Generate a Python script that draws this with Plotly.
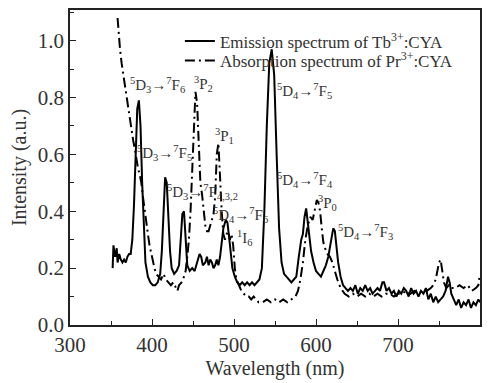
import plotly.graph_objects as go

# Emission spectrum of Tb3+:CYA (solid)
em_wl = [352, 353, 355, 357, 358, 360, 362, 364, 366, 368, 370, 372, 374, 376, 378, 380, 382, 384, 386, 388,
         390, 392, 395, 398, 401, 404, 407, 410, 412, 414, 416, 418, 420, 422, 424, 427, 430, 433, 435, 437,
         439, 441, 443, 446, 449, 452, 455, 458, 460, 462, 465, 467, 469, 471, 473, 475, 477, 479, 481, 483,
         485, 487, 490, 492, 494, 496, 498, 501, 504, 507, 510, 513, 516, 519, 522, 525, 528, 531, 534, 537,
         540, 543, 546, 549, 552, 555, 558, 561, 564, 567, 570, 573, 576, 579, 582, 584, 586, 588, 590, 592,
         594, 597, 600, 603, 606, 609, 612, 615, 618, 621, 623, 625, 627, 630, 633, 636, 639, 642, 645, 648,
         651, 654, 657, 660, 663, 666, 669, 672, 675, 678, 681, 683, 686, 689, 692, 695, 698, 701, 704, 707,
         710, 713, 716, 719, 722, 725, 728, 731, 734, 737, 740, 743, 746, 749, 752, 755, 758, 761, 763, 765,
         768, 771, 774, 777, 780, 783, 786, 789, 792, 795, 798, 800]
em_val = [0.20, 0.28, 0.24, 0.27, 0.22, 0.25, 0.23, 0.22, 0.23, 0.22, 0.24, 0.25, 0.25, 0.30, 0.42, 0.60, 0.76, 0.79, 0.70, 0.50,
          0.32, 0.22, 0.17, 0.15, 0.14, 0.14, 0.15, 0.18, 0.26, 0.42, 0.52, 0.50, 0.38, 0.26, 0.20, 0.18, 0.19, 0.21, 0.30, 0.39,
          0.40, 0.32, 0.21, 0.19, 0.20, 0.19, 0.22, 0.25, 0.24, 0.21, 0.22, 0.24, 0.21, 0.23, 0.22, 0.20, 0.21, 0.23, 0.21, 0.24,
          0.29, 0.34, 0.37, 0.36, 0.31, 0.25, 0.20, 0.17, 0.15, 0.14, 0.15, 0.14, 0.15, 0.14, 0.15, 0.14, 0.15, 0.16, 0.20, 0.40,
          0.70, 0.92, 0.97, 0.88, 0.60, 0.34, 0.22, 0.18, 0.17, 0.16, 0.15, 0.16, 0.17, 0.24, 0.30, 0.32, 0.38, 0.41, 0.36, 0.30,
          0.26, 0.22, 0.19, 0.18, 0.17, 0.19, 0.21, 0.24, 0.29, 0.34, 0.33, 0.28, 0.22, 0.17, 0.14, 0.13, 0.12, 0.13, 0.12, 0.14,
          0.11, 0.13, 0.12, 0.14, 0.12, 0.13, 0.11, 0.12, 0.13, 0.12, 0.15, 0.15, 0.12, 0.13, 0.11, 0.12, 0.10, 0.12, 0.11, 0.13,
          0.12, 0.10, 0.13, 0.11, 0.12, 0.10, 0.12, 0.11, 0.13, 0.09, 0.11, 0.08, 0.10, 0.08, 0.09, 0.10, 0.12, 0.17, 0.15, 0.11,
          0.09, 0.07, 0.09, 0.06, 0.08, 0.07, 0.09, 0.06, 0.08, 0.07, 0.09, 0.08]

# Absorption spectrum of Pr3+:CYA (dash-dot)
ab_wl = [358, 359, 361, 363, 365, 367, 369, 371, 373, 375, 377, 379, 381, 383, 385, 387, 389, 391, 393,
         395, 397, 399, 401, 403, 405, 408, 411, 414, 417, 420, 423, 426, 429, 431, 433, 436, 439, 441, 443,
         445, 447, 449, 451, 453, 455, 457, 459, 461, 463, 465, 467, 469, 471, 473, 475, 477, 479, 481, 483,
         485, 487, 489, 491, 493, 495, 497, 499, 501, 503, 506, 509, 512, 515, 518, 521, 524, 527, 530, 535,
         540, 545, 550, 555, 560, 565, 570, 575, 578, 581, 584, 587, 590, 593, 596, 599, 601, 603, 605, 607,
         609, 611, 614, 617, 620, 623, 626, 630, 635, 640, 645, 650, 655, 660, 665, 670, 675, 680, 685, 690,
         695, 700, 705, 710, 715, 720, 725, 730, 735, 740, 743, 746, 748, 750, 752, 754, 756, 759, 762, 765,
         770, 775, 780, 785, 790, 795, 798, 800]
ab_val = [1.08, 1.04, 0.97, 0.92, 0.88, 0.84, 0.80, 0.76, 0.72, 0.68, 0.65, 0.62, 0.58, 0.55, 0.53, 0.50, 0.45, 0.40, 0.35,
          0.32, 0.28, 0.25, 0.22, 0.20, 0.18, 0.17, 0.16, 0.18, 0.16, 0.15, 0.14, 0.15, 0.13, 0.12, 0.14, 0.15, 0.17, 0.19, 0.24,
          0.30, 0.40, 0.55, 0.72, 0.82, 0.78, 0.62, 0.50, 0.46, 0.40, 0.35, 0.33, 0.33, 0.35, 0.37, 0.39, 0.45, 0.60, 0.64, 0.50,
          0.40, 0.32, 0.30, 0.32, 0.33, 0.30, 0.32, 0.28, 0.20, 0.16, 0.14, 0.12, 0.11, 0.10, 0.10, 0.09, 0.10, 0.09, 0.08, 0.08,
          0.09, 0.08, 0.09, 0.08, 0.09, 0.08, 0.09, 0.10, 0.12, 0.16, 0.22, 0.30, 0.35, 0.38, 0.37, 0.41, 0.44, 0.43, 0.40, 0.34,
          0.29, 0.27, 0.25, 0.24, 0.22, 0.19, 0.16, 0.13, 0.11, 0.10, 0.11, 0.10, 0.11, 0.10, 0.11, 0.10, 0.11, 0.10, 0.11, 0.11,
          0.10, 0.11, 0.11, 0.12, 0.11, 0.12, 0.11, 0.12, 0.12, 0.13, 0.14, 0.16, 0.19, 0.22, 0.23, 0.19, 0.15, 0.13, 0.14, 0.13,
          0.13, 0.14, 0.13, 0.14, 0.12, 0.13, 0.14, 0.18]

# Transition labels: (text, wavelength, intensity)
labels = [
    ("<sup>5</sup>D<sub>3</sub>→<sup>7</sup>F<sub>6</sub>", 406.5, 0.845),
    ("<sup>3</sup>P<sub>2</sub>", 462.5, 0.848),
    ("<sup>3</sup>P<sub>1</sub>", 488.0, 0.665),
    ("<sup>5</sup>D<sub>3</sub>→<sup>7</sup>F<sub>5</sub>", 415.0, 0.606),
    ("<sup>5</sup>D<sub>3</sub>→<sup>7</sup>F<sub>4,3,2</sub>", 462.0, 0.467),
    ("<sup>5</sup>D<sub>4</sub>→<sup>7</sup>F<sub>6</sub>", 508.0, 0.387),
    ("<sup>1</sup>I<sub>6</sub>", 514.0, 0.307),
    ("<sup>5</sup>D<sub>4</sub>→<sup>7</sup>F<sub>5</sub>", 586.0, 0.822),
    ("<sup>5</sup>D<sub>4</sub>→<sup>7</sup>F<sub>4</sub>", 586.0, 0.509),
    ("<sup>3</sup>P<sub>0</sub>", 614.0, 0.429),
    ("<sup>5</sup>D<sub>4</sub>→<sup>7</sup>F<sub>3</sub>", 660.0, 0.328),
]

SERIF = "Liberation Serif"

fig = go.Figure()
fig.add_trace(go.Scatter(x=em_wl, y=em_val, mode="lines",
                         name="Emission spectrum of Tb<sup>3+</sup>:CYA",
                         line=dict(color="black", width=2), legend="legend"))
fig.add_trace(go.Scatter(x=ab_wl, y=ab_val, mode="lines",
                         name="Absorption spectrum of Pr<sup>3+</sup>:CYA",
                         line=dict(color="black", width=2, dash="10px,4px,2px,4px"), legend="legend2"))

for txt, x, y in labels:
    fig.add_annotation(x=x, y=y, xref="x", yref="y", text=txt, showarrow=False,
                       xanchor="center", yanchor="middle",
                       font=dict(family=SERIF, size=15, color="#333333"))

axis_common = dict(showline=True, linecolor="#222222", linewidth=1.5, mirror=True,
                   ticks="inside", ticklen=6, tickwidth=1.2, tickcolor="#222222",
                   showgrid=False, zeroline=False,
                   tickfont=dict(family=SERIF, size=21, color="#333333"))

fig.update_xaxes(range=[300, 800], dtick=100, tick0=300,
                 minor=dict(ticks="inside", ticklen=4, dtick=50, tickcolor="#222222"),
                 title=dict(text="Wavelength (nm)", font=dict(family=SERIF, size=20, color="#333333"), standoff=4),
                 **axis_common)
fig.update_yaxes(range=[0, 1.108], dtick=0.2, tick0=0, tickformat=".1f",
                 minor=dict(ticks="inside", ticklen=4, dtick=0.1, tickcolor="#222222"),
                 title=dict(text="Intensity (a.u.)", font=dict(family=SERIF, size=20, color="#333333"), standoff=6),
                 **axis_common)

leg_common = dict(xanchor="left", yanchor="middle", bgcolor="rgba(0,0,0,0)", borderwidth=0,
                  font=dict(family=SERIF, size=17, color="#333333"), itemwidth=30)

fig.update_layout(width=495, height=383, margin=dict(l=70, r=15, t=8, b=57),
                  paper_bgcolor="white", plot_bgcolor="white",
                  font=dict(family=SERIF),
                  showlegend=True,
                  legend=dict(x=0.268, y=0.90, **leg_common),
                  legend2=dict(x=0.268, y=0.838, **leg_common))

fig.write_html("out.html")
